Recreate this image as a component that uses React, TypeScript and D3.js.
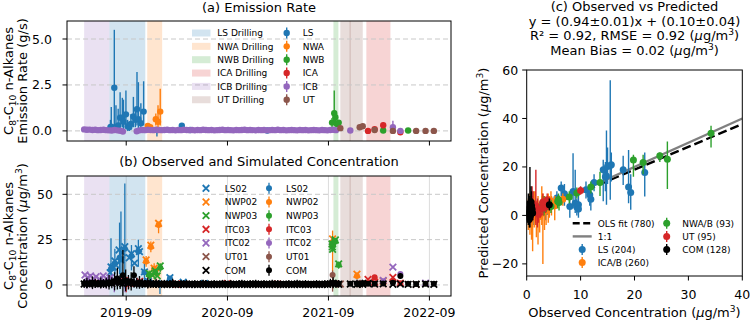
import React from "react";
import * as d3 from "d3";

// ---------------- shared time axis ----------------
const dateDomain = ["2019-01-30", "2022-11-18"];
const dateTicks = ["2019-09-01", "2020-09-01", "2021-09-01", "2022-09-01"];
const dateTickLabels = ["2019-09", "2020-09", "2021-09", "2022-09"];

// drilling periods: [site, start, end]
const drillingSpans = [
  ["LS", "2019-07-02", "2019-11-09"],
  ["NWA", "2019-11-16", "2020-01-09"],
  ["NWB", "2021-09-19", "2021-10-07"],
  ["ICA", "2022-01-16", "2022-04-13"],
  ["ICB", "2019-04-02", "2019-07-02"],
  ["UT", "2021-10-14", "2021-11-21"],
  ["UT", "2021-11-16", "2022-01-03"],
];
const drillingSites = ["LS", "NWA", "NWB", "ICA", "ICB", "UT"];

// ---------------- (a) emission rate, g/s: [date, value, low, high] ----------------
const emisLS = [
  ["2019-07-06", 0.2, 0.0, 0.6], ["2019-07-09", 0.23, 0.0, 1.3], ["2019-07-20", 2.35, 0.1, 5.5],
  ["2019-07-26", 0.2, 0.0, 1.4], ["2019-08-03", 0.3, 0.0, 1.2], ["2019-08-10", 0.72, 0.2, 2.1],
  ["2019-08-18", 0.72, 0.2, 1.8], ["2019-08-22", 0.5, 0.1, 1.7], ["2019-08-31", 0.9, 0.2, 2.2],
  ["2019-09-06", 0.25, 0.0, 0.6], ["2019-09-12", 0.2, 0.0, 0.5], ["2019-09-18", 0.38, 0.1, 0.9],
  ["2019-09-27", 0.78, 0.2, 1.85], ["2019-10-04", 0.6, 0.2, 1.2], ["2019-10-10", 1.18, 0.3, 3.2],
  ["2019-10-15", 0.63, 0.1, 2.65], ["2019-10-24", 0.42, 0.1, 1.5], ["2019-11-03", 1.05, 0.3, 2.7],
  ["2019-12-21", 0.05, -0.3, 0.15], ["2020-03-20", 0.28, 0.15, 0.4], ["2020-04-19", 0.05, 0.0, 0.1],
  ["2021-01-23", 0.02, -0.12, 0.12],
];
const emisNWA = [
  ["2019-11-18", 0.27, 0.1, 0.4], ["2019-11-27", 0.2, 0.0, 0.35], ["2019-12-17", 0.63, 0.3, 0.95],
  ["2019-12-25", 0.5, 0.2, 1.4], ["2020-01-02", 1.05, 0.3, 2.3],
];
const emisNWB = [
  ["2021-09-14", 0.45, 0.2, 0.7], ["2021-09-22", 0.96, 0.3, 2.2], ["2021-09-26", 0.74, 0.4, 1.1],
  ["2021-10-02", 0.38, 0.2, 0.55], ["2021-10-08", 0.45, 0.25, 0.6], ["2022-03-18", 0.02, -0.05, 0.1],
  ["2022-06-16", 0.02, -0.05, 0.08],
];
const emisICA = [
  ["2022-01-22", 0.0, -0.15, 0.12], ["2022-02-15", 0.09, -0.05, 0.2], ["2022-03-18", 0.31, 0.15, 0.45],
  ["2022-05-19", -0.07, -0.15, 0.02],
];
const emisICB = [
  ["2021-11-19", 0.02, -0.05, 0.08], ["2022-04-22", 0.2, 0.0, 0.55], ["2022-05-19", 0.0, -0.1, 0.1],
];
const emisUT = [
  ["2021-10-14", 0.15, 0.05, 0.25], ["2021-12-23", 0.2, 0.1, 0.3], ["2022-01-03", 0.25, 0.15, 0.35],
  ["2022-02-15", 0.05, -0.05, 0.15], ["2022-04-22", 0.0, -0.1, 0.1], ["2022-07-15", 0.0, -0.05, 0.05],
  ["2022-08-18", 0.0, -0.05, 0.05], ["2022-09-17", 0.0, -0.05, 0.05],
];

// continuous monitoring dates (Apr 2019 - Oct 2021)
const bandDates = [
  "2019-04-02", "2019-04-12", "2019-04-22", "2019-05-02", "2019-05-12", "2019-05-22", "2019-06-01",
  "2019-06-11", "2019-06-21", "2019-07-01", "2019-07-11", "2019-07-21", "2019-07-31", "2019-08-10",
  "2019-08-20", "2019-08-30", "2019-09-09", "2019-09-19", "2019-09-29", "2019-10-09", "2019-10-19",
  "2019-10-29", "2019-11-08", "2019-11-18", "2019-11-28", "2019-12-08", "2019-12-18", "2019-12-28",
  "2020-01-07", "2020-01-17", "2020-01-27", "2020-02-06", "2020-02-16", "2020-02-26", "2020-03-07",
  "2020-03-17", "2020-03-27", "2020-04-06", "2020-04-16", "2020-04-26", "2020-05-06", "2020-05-16",
  "2020-05-26", "2020-06-05", "2020-06-15", "2020-06-25", "2020-07-05", "2020-07-15", "2020-07-25",
  "2020-08-04", "2020-08-14", "2020-08-24", "2020-09-03", "2020-09-13", "2020-09-23", "2020-10-03",
  "2020-10-13", "2020-10-23", "2020-11-02", "2020-11-12", "2020-11-22", "2020-12-02", "2020-12-12",
  "2020-12-22", "2021-01-01", "2021-01-11", "2021-01-21", "2021-01-31", "2021-02-10", "2021-02-20",
  "2021-03-02", "2021-03-12", "2021-03-22", "2021-04-01", "2021-04-11", "2021-04-21", "2021-05-01",
  "2021-05-11", "2021-05-21", "2021-05-31", "2021-06-10", "2021-06-20", "2021-06-30", "2021-07-10",
  "2021-07-20", "2021-07-30", "2021-08-09", "2021-08-19", "2021-08-29", "2021-09-08", "2021-09-18",
  "2021-09-28", "2021-10-08",
];
// ICB emission rate on the monitoring dates (null = no estimate)
const icbBand = [
  0.08, 0.06, 0.07, 0.05, 0.06, 0.04, 0.05, 0.06, 0.04, 0.03, 0.02, 0.05, 0.03, 0.01, -0.03,
  null, null, null, null, -0.02, 0.03, 0.05, 0.04, 0.06, 0.05, 0.04, 0.06, 0.05,
  0.04, 0.05, 0.06, 0.04, 0.05, 0.03, 0.05, 0.04, 0.06, 0.05, 0.04, 0.05, 0.03, 0.05, 0.04, 0.06,
  0.05, 0.04, 0.05, 0.03, 0.04, 0.05, 0.06, 0.04, 0.05, 0.04, 0.03, 0.05, 0.04, 0.05, 0.06, 0.04,
  0.05, 0.04, 0.03, 0.05,
  0.04, 0.05, 0.03, 0.04, 0.05, 0.04, 0.06, 0.04, 0.05, 0.03, 0.04, 0.05, 0.04, 0.03, 0.05, 0.04,
  0.05, 0.03, 0.04, 0.05, 0.04, 0.03, 0.05, 0.04, 0.03, 0.05, 0.06, 0.04, null,
];

// ---------------- (b) concentration, ug/m3 ----------------
// COM observed / simulated on the monitoring dates
const comObs = [
  0.5, 0.8, 0.3, 1.0, 0.6, 0.4, 0.9, 0.5, 0.7, 1.2, 0.8, 1.5, 2.0, 1.0, 0.6, 1.8, 0.9, 1.2, 0.7, 0.5,
  0.9, 0.6, 0.4, 0.8, 0.5, 0.3, 0.6, 0.4,
  0.3, 0.5, 0.2, 0.4, 0.6, 0.3, 0.2, 0.4, 0.3, 0.5, 0.2, 0.3, 0.4, 0.2, 0.3, 0.5, 0.4, 0.2, 0.3, 0.4,
  0.2, 0.3, 0.5, 0.3, 0.2, 0.4, 0.3, 0.2, 0.4, 0.5, 0.3, 0.2, 0.4, 0.3, 0.5, 0.2,
  0.3, 0.4, 0.2, 0.3, 0.5, 0.2, 0.4, 0.3, 0.2, 0.3, 0.4, 0.2, 0.3, 0.5, 0.2, 0.3, 0.4, 0.2, 0.3, 0.2,
  0.4, 0.3, 0.2, 0.4, 0.3, 0.6, 0.8, 0.5, 0.4,
];
const comSim = [
  0.8, 1.0, 0.6, 1.2, 0.9, 0.7, 1.1, 0.8, 1.0, 1.5, 1.2, 2.0, 3.5, 1.8, 5.3, 2.5, 1.5, 2.0, 5.3, 1.0,
  1.4, 0.9, 0.7, 1.1, 0.8, 0.6, 0.9, 0.7,
  0.6, 0.8, 0.5, 0.7, 0.9, 0.6, 0.5, 0.7, 0.6, 0.8, 0.5, 0.6, 0.7, 0.5, 0.6, 0.8, 0.7, 0.5, 0.6, 0.7,
  0.5, 0.6, 0.8, 0.6, 0.5, 0.7, 0.6, 0.5, 0.7, 0.8, 0.6, 0.5, 0.7, 0.6, 0.8, 0.5,
  0.6, 0.7, 0.5, 0.6, 0.8, 0.5, 0.7, 0.6, 0.5, 0.6, 0.7, 0.5, 0.6, 0.8, 0.5, 0.6, 0.7, 0.5, 0.6, 0.5,
  0.7, 0.6, 0.5, 0.7, 0.6, 0.9, 1.2, 0.8, 0.7,
];
const comSimErr = [
  2.5, 3, 2, 3.5, 2.5, 2, 3, 2.5, 3, 4, 3, 5, 6, 4, 14, 6, 4, 5, 5, 3, 3.5, 2.5, 2, 3, 2.5, 2, 2.5, 2,
  1.5, 2, 1.5, 2, 2.5, 1.5, 1.5, 2, 1.5, 2, 1.5, 1.5, 2, 1.5, 1.5, 2, 2, 1.5, 1.5, 2, 1.5, 1.5, 2,
  1.5, 1.5, 2, 1.5, 1.5, 2, 2, 1.5, 1.5, 2, 1.5, 2, 1.5,
  1.5, 2, 1.5, 1.5, 2, 1.5, 2, 1.5, 1.5, 1.5, 2, 1.5, 1.5, 2, 1.5, 1.5, 2, 1.5, 1.5, 1.5, 2, 1.5,
  1.5, 2, 1.5, 2.5, 3, 2, 2,
];
// COM after the continuous period
const lateDates = [
  "2021-11-19", "2021-12-13", "2021-12-23", "2022-01-03", "2022-01-22", "2022-02-15", "2022-03-18",
  "2022-04-22", "2022-05-19", "2022-06-16", "2022-07-15", "2022-08-18", "2022-09-17",
];
const comLateObs = [0.5, 0.3, 0.6, 0.4, 0.8, 0.5, 0.6, 0.4, 0.5, 0.3, 0.4, 0.5, 0.3];
const comLateSim = [0.6, 0.8, 0.5, 0.9, 0.7, 0.6, 0.8, 1.2, 5.0, 0.6, 0.5, 0.7, 0.6];
const comLateErr = [1, 1, 1, 1.5, 1, 1, 1, 1.5, 1.5, 1, 1, 1, 1];

// observed: [date, value]; simulated: [date, value, low, high]
const ls02Obs = [
  ["2019-07-05", 6.8], ["2019-07-08", 9.9], ["2019-07-16", 9.8], ["2019-07-22", 13.2],
  ["2019-07-26", 10.9], ["2019-08-06", 19.3], ["2019-08-13", 13.8], ["2019-08-18", 17.8],
  ["2019-08-27", 21.1], ["2019-09-12", 15.0], ["2019-09-20", 17.2], ["2019-10-01", 12.0],
  ["2019-10-15", 20.0], ["2019-10-19", 18.4], ["2019-11-06", 7.2], ["2019-11-20", 2.0],
  ["2020-02-06", 4.0], ["2020-03-25", 1.5], ["2020-06-10", 0.8],
];
const ls02Sim = [
  ["2019-07-08", 9.0, 3, 25.8], ["2019-07-22", 12.0, 6, 20], ["2019-08-08", 15.0, 6, 34.4],
  ["2019-08-13", 14.0, 4, 40.5], ["2019-08-27", 20.0, -2, 56], ["2019-09-20", 16.0, 8, 22],
  ["2019-10-15", 18.5, 10, 25], ["2019-11-06", 7.0, 2, 12], ["2019-12-01", 1.0, -1, 3],
  ["2020-01-01", 0.5, -5, 3], ["2020-02-06", 3.5, 2, 5],
];
const nwp02Obs = [
  ["2019-11-12", 13.8], ["2019-11-29", 21.9], ["2019-12-11", 9.2], ["2019-12-19", 7.0],
  ["2019-12-27", 34.0], ["2021-09-16", 25.4], ["2021-12-13", 5.9], ["2022-03-18", 2.2],
];
const nwp02Sim = [
  ["2019-11-12", 13.0, 10, 16], ["2019-11-29", 21.0, 18, 24], ["2019-12-11", 9.0, 6, 12],
  ["2019-12-27", 33.0, 28.5, 35], ["2021-09-16", 22.0, 7.3, 30], ["2021-12-13", 5.0, 3, 7],
  ["2022-03-18", 1.5, 0, 3],
];
const nwp03Obs = [
  ["2019-11-23", 6.4], ["2019-12-05", 5.3], ["2019-12-15", 7.7], ["2019-12-22", 5.0],
  ["2020-01-02", 10.5], ["2021-09-14", 22.6], ["2021-09-15", 21.0], ["2021-09-16", 19.7],
  ["2021-09-26", 24.8], ["2021-10-08", 11.6], ["2021-12-23", 1.0],
];
const nwp03Sim = [
  ["2019-11-23", 5.5, 3, 8], ["2019-12-15", 7.0, 5, 9], ["2020-01-02", 9.5, 7, 12],
  ["2021-09-15", 23.0, 18, 27], ["2021-09-26", 24.0, 21, 26], ["2021-10-08", 11.0, 9, 13],
];
const itc03Obs = [
  ["2019-05-20", 1.5], ["2019-08-25", 2.5], ["2019-09-15", 1.0], ["2019-10-20", 2.0],
  ["2020-03-01", 0.5], ["2020-09-01", 0.8], ["2021-03-01", 0.6], ["2022-01-22", 3.1],
  ["2022-02-15", 1.5], ["2022-04-22", 4.2], ["2022-05-19", 1.0],
];
const itc03Sim = [
  ["2019-09-01", 0.5, -4, 3], ["2019-09-10", 1.0, -2, 4], ["2022-02-15", 4.2, 3, 5.5],
  ["2022-04-22", 2.0, 1, 3], ["2022-05-19", 1.0, 0, 2],
];
const itc02Obs = [
  ["2019-04-05", 5.5], ["2019-04-15", 4.0], ["2019-04-25", 5.0], ["2019-05-05", 3.5],
  ["2019-05-15", 4.5], ["2019-05-28", 3.0], ["2019-06-10", 5.0], ["2019-06-22", 3.5],
  ["2019-07-05", 4.0], ["2019-07-18", 3.0], ["2019-08-01", 2.5], ["2019-08-20", 2.0],
  ["2019-09-20", 1.5], ["2019-10-20", 1.0], ["2021-12-23", 1.0], ["2022-03-18", 2.5],
  ["2022-04-22", 9.8], ["2022-08-18", 1.0],
];
const itc02Sim = [
  ["2019-04-10", 2.0, -1, 4], ["2019-06-01", 2.5, 0, 5], ["2019-07-20", 1.5, -4, 4],
  ["2019-08-28", 1.0, -4, 3], ["2022-03-18", 2.0, 1, 3], ["2022-05-19", 6.0, 5, 7],
];
const ut01Obs = [["2021-10-14", 0.5], ["2021-12-23", 0.6], ["2022-01-03", 0.8], ["2022-07-15", 0.3]];
const ut01Sim = [["2021-09-16", 5.5, -3.7, 8], ["2021-12-23", 1.0, 0, 2]];
const concSites = ["LS02", "NWP02", "NWP03", "ITC03", "ITC02", "UT01", "COM"];

// ---------------- (c) observed vs predicted: [observed, predicted, low, high] ----------------
const cmpLS = [
  [0.3, 1.5, -3, 6], [0.8, 3.0, -2, 8], [1.2, 0.5, -4, 5], [2.0, 2.5, -1, 6], [2.8, 4.5, 1, 8],
  [3.5, 1.5, -2, 5], [5.6, 7.2, 4, 10], [6.4, 11.3, 8, 14], [7.0, 8.9, 4, 13], [8.0, 3.7, -1, 8],
  [8.6, 9.9, 3, 25.7], [9.0, 5.0, 1, 18.8], [9.3, 3.5, 0, 7], [9.6, 4.4, 1, 8], [9.6, 2.6, -1, 6],
  [11.0, 10.6, 7, 14], [11.7, 8.5, 4, 12], [11.9, 6.7, 2, 10], [12.5, 13.6, 10, 17],
  [14.2, 18.8, 5.8, 23], [14.6, 16.0, 10, 22], [14.8, 16.3, 4.4, 35], [15.0, 20.2, 13, 28],
  [15.5, 20.6, 6.5, 55.8], [15.7, 20.9, 14, 26], [17.9, 18.8, 12.6, 24.6], [18.9, 11.7, 5, 27],
  [19.3, 9.5, 2.3, 17], [21.9, 17.7, 7.8, 26],
];
const cmpICAB = [
  [0.3, 0.5, -6, 7], [0.6, 2.0, -8, 9], [0.9, -1.0, -10, 5], [1.1, 1.0, -14.8, 8], [1.4, 3.0, -5, 10],
  [1.8, 0.0, -9, 6], [2.1, 1.5, -12, 8], [2.4, -0.5, -7, 5], [2.8, 2.5, -4, 12], [3.0, 1.0, -20, 9],
  [3.3, 3.0, -6, 8], [3.6, 2.0, -4, 7], [4.0, 3.5, -3, 9], [4.2, 3.5, -1, 8], [4.6, 5.0, 0, 8],
  [5.2, 4.0, -2, 8], [5.75, 5.8, 3, 8], [6.7, 6.7, 4, 9], [4.5, 6.0, 2, 10], [1.6, 4.5, -3, 10],
];
const cmpNWAB = [
  [0.5, 0.8, -1, 3], [1.5, 2.0, 0, 4], [2.6, 3.5, 1, 6], [3.2, 2.5, 0, 8], [4.5, 3.7, 1, 6.5],
  [5.9, 6.5, 4, 9], [5.75, 5.8, 3, 8], [6.0, 5.3, 2, 8], [7.9, 7.6, 5, 10], [9.3, 9.2, 7, 11.5],
  [11.9, 11.7, 9, 14], [13.6, 13.6, 8, 18], [19.8, 22.9, 16, 25], [21.6, 21.8, 17, 25],
  [24.7, 24.6, 22, 26], [26.1, 23.2, 10.9, 30.5], [34.2, 33.9, 28, 37],
];
const cmpUT = [
  [0.8, 2.0, -3, 8], [1.2, 3.5, -2, 10], [1.7, 4.0, -4, 18.8], [2.0, 1.5, -5, 7], [2.5, 2.6, -1, 6],
  [3.0, 3.0, 0, 6], [3.5, 3.5, 1, 6], [3.0, 5.5, 2, 9], [3.8, 6.5, 3, 9], [2.2, 0.5, -3, 4],
  [10.0, 10.3, 8.5, 12], [1.0, 5.0, -1, 12],
];
const cmpCOM = [
  [0.1, 0.5, -3, 4], [0.2, 2.0, -2, 6], [0.3, -0.5, -4, 3], [0.4, 1.0, -3, 5], [0.5, 3.0, -1, 8],
  [0.6, 2.0, -5, 20], [0.7, 0.0, -3, 4], [0.8, 1.5, -2, 6], [0.9, 4.0, 0, 10], [1.0, 2.5, -1, 7],
  [1.1, 1.0, -2, 5], [0.3, 4.5, 1, 9], [0.5, -1.5, -5, 2], [0.8, 5.5, 2, 12], [4.2, 4.4, 2, 7],
];
const cmpGroups = ["LS (204)", "ICA/B (260)", "NWA/B (93)", "UT (95)", "COM (128)"];
const olsSlope = 0.94;
const olsIntercept = 0.1;
const xTicksC = [0, 10, 20, 30, 40];
const yTicksC = [-20, 0, 20, 40, 60];
const yTicksA = [0, 2.5, 5];
const yTicksB = [0, 25, 50];

// ---------------- styling ----------------
const FONT = "'DejaVu Sans', Verdana, sans-serif";
const COL = {
  blue: "#1f77b4", orange: "#ff7f0e", green: "#2ca02c", red: "#d62728",
  purple: "#9467bd", brown: "#8c564b", black: "#000000",
};
const siteColor: Record<string, string> = {
  LS: COL.blue, NWA: COL.orange, NWB: COL.green, ICA: COL.red, ICB: COL.purple, UT: COL.brown,
};

const parse = d3.utcParse("%Y-%m-%d");

function ErrDot({ cx, cy, y0, y1, color, r, sw }: any) {
  return (
    <g>
      <line x1={cx} x2={cx} y1={y0} y2={y1} stroke={color} strokeWidth={sw} />
      <circle cx={cx} cy={cy} r={r} fill={color} />
    </g>
  );
}

function XMark({ cx, cy, s, color, sw }: any) {
  return (
    <path
      d={`M${cx - s},${cy - s}L${cx + s},${cy + s}M${cx - s},${cy + s}L${cx + s},${cy - s}`}
      stroke={color}
      strokeWidth={sw}
      fill="none"
    />
  );
}

function Unit() {
  return (
    <>
      (<tspan fontStyle="italic">μ</tspan>g/m<tspan dy={-5} fontSize="0.7em">3</tspan>
      <tspan dy={5}>)</tspan>
    </>
  );
}

function Alkanes() {
  return (
    <>
      C<tspan dy={3} fontSize="0.7em">8</tspan>
      <tspan dy={-3}>-C</tspan>
      <tspan dy={3} fontSize="0.7em">10</tspan>
      <tspan dy={-3}> n-Alkanes</tspan>
    </>
  );
}

export default function App() {
  const x = d3.scaleUtc().domain(dateDomain.map((d) => parse(d) as Date)).range([67, 451]);
  const yA = d3.scaleLinear().domain([-0.55, 5.98]).range([141, 21]);
  const yB = d3.scaleLinear().domain([-6.1, 60.1]).range([296, 176]);
  const xC = d3.scaleLinear().domain([0, 40]).range([526.7, 742.3]);
  const yC = d3.scaleLinear().domain([-25, 60]).range([276, 70]);
  const xd = (s: string) => x(parse(s) as Date);

  const A = { l: 67, r: 451, t: 21, b: 141 };
  const B = { l: 67, r: 451, t: 176, b: 296 };
  const Cp = { l: 526.7, r: 742.3, t: 70, b: 276 };

  const spans = (top: number, bottom: number) =>
    drillingSpans.map(([site, s, e], i) => (
      <rect
        key={"sp" + i}
        x={xd(s)}
        y={top}
        width={xd(e) - xd(s)}
        height={bottom - top}
        fill={siteColor[site]}
        fillOpacity={0.2}
      />
    ));

  const emisSeries: [string, any[]][] = [
    ["LS", emisLS], ["NWA", emisNWA], ["NWB", emisNWB], ["ICA", emisICA], ["ICB", emisICB], ["UT", emisUT],
  ];

  const concSeries: [string, any[], any[]][] = [
    [COL.blue, ls02Obs, ls02Sim],
    [COL.orange, nwp02Obs, nwp02Sim],
    [COL.green, nwp03Obs, nwp03Sim],
    [COL.red, itc03Obs, itc03Sim],
    [COL.purple, itc02Obs, itc02Sim],
    [COL.brown, ut01Obs, ut01Sim],
  ];

  const cmpSeries: [string, any[]][] = [
    [COL.blue, cmpLS], [COL.orange, cmpICAB], [COL.green, cmpNWAB], [COL.red, cmpUT], [COL.black, cmpCOM],
  ];

  const gridDash = "5,3";
  const gridCol = "#c8c8c8";
  const cx = (Cp.l + Cp.r) / 2;

  return (
    <svg
      width={750}
      height={323}
      viewBox="0 0 750 323"
      style={{ position: "absolute", left: 0, top: 0, background: "#fff" }}
      fontFamily={FONT}
    >
      <defs>
        <clipPath id="clipA"><rect x={A.l} y={A.t} width={A.r - A.l} height={A.b - A.t} /></clipPath>
        <clipPath id="clipB"><rect x={B.l} y={B.t} width={B.r - B.l} height={B.b - B.t} /></clipPath>
        <clipPath id="clipC"><rect x={Cp.l} y={Cp.t} width={Cp.r - Cp.l} height={Cp.b - Cp.t} /></clipPath>
      </defs>
      <rect x={0} y={0} width={750} height={323} fill="#fff" />

      {/* ================= (a) Emission Rate ================= */}
      <text x={(A.l + A.r) / 2} y={11.5} textAnchor="middle" fontSize={13}>(a) Emission Rate</text>
      <g clipPath="url(#clipA)">
        {spans(A.t, A.b)}
        {yTicksA.map((t) => (
          <line key={"ga" + t} x1={A.l} x2={A.r} y1={yA(t)} y2={yA(t)} stroke={gridCol} strokeDasharray={gridDash} />
        ))}
        {emisSeries.map(([site, rows]) => (
          <g key={"ea" + site}>
            {site === "ICB" &&
              bandDates.map((d, i) =>
                icbBand[i] == null ? null : (
                  <circle key={"icb" + i} cx={xd(d)} cy={yA(icbBand[i] as number)} r={3.2} fill={COL.purple} />
                )
              )}
            {rows.map((r: any, i: number) => (
              <ErrDot key={i} cx={xd(r[0])} cy={yA(r[1])} y0={yA(r[2])} y1={yA(r[3])} color={siteColor[site]} r={3.2} sw={1.4} />
            ))}
          </g>
        ))}
      </g>
      <rect x={A.l} y={A.t} width={A.r - A.l} height={A.b - A.t} fill="none" stroke="#000" strokeWidth={1} />
      {yTicksA.map((t) => (
        <g key={"ya" + t}>
          <line x1={A.l - 4.5} x2={A.l} y1={yA(t)} y2={yA(t)} stroke="#000" />
          <text x={52} y={yA(t) + 4.5} textAnchor="end" fontSize={12.5}>{t.toFixed(1)}</text>
        </g>
      ))}
      {dateTicks.map((d) => (
        <line key={"xa" + d} x1={xd(d)} x2={xd(d)} y1={A.b} y2={A.b + 4.5} stroke="#000" />
      ))}
      <text transform={`translate(13,${(A.t + A.b) / 2}) rotate(-90)`} textAnchor="middle" fontSize={13}>
        <Alkanes />
      </text>
      <text transform={`translate(27,${(A.t + A.b) / 2}) rotate(-90)`} textAnchor="middle" fontSize={13}>
        Emission Rate (g/s)
      </text>
      {/* legend (a) */}
      {drillingSites.map((site, i) => {
        const cy = 33 + i * 13.35;
        return (
          <g key={"la" + site} fontSize={9}>
            <rect x={192} y={cy - 3.5} width={18.5} height={7} fill={siteColor[site]} fillOpacity={0.2} />
            <text x={217.3} y={cy + 3.3}>{site} Drilling</text>
            <ErrDot cx={286.7} cy={cy} y0={cy - 5.5} y1={cy + 5.5} color={siteColor[site]} r={3.2} sw={1.4} />
            <text x={302.7} y={cy + 3.3}>{site}</text>
          </g>
        );
      })}

      {/* ================= (b) Observed and Simulated Concentration ================= */}
      <text x={(B.l + B.r) / 2} y={166} textAnchor="middle" fontSize={13}>
        (b) Observed and Simulated Concentration
      </text>
      <g clipPath="url(#clipB)">
        {dateTicks.map((d) => (
          <line key={"gvb" + d} x1={xd(d)} x2={xd(d)} y1={B.t} y2={B.b} stroke="#dcdcdc" strokeWidth={1} />
        ))}
        {spans(B.t, B.b)}
        {yTicksB.map((t) => (
          <line key={"gb" + t} x1={B.l} x2={B.r} y1={yB(t)} y2={yB(t)} stroke={gridCol} strokeDasharray={gridDash} />
        ))}
        {concSeries.map(([col, obs, sim], k) => (
          <g key={"sb" + k}>
            {obs.map((r: any, i: number) => (
              <XMark key={"o" + i} cx={xd(r[0])} cy={yB(r[1])} s={3.3} color={col} sw={1.8} />
            ))}
            {sim.map((r: any, i: number) => (
              <ErrDot key={"s" + i} cx={xd(r[0])} cy={yB(r[1])} y0={yB(r[2])} y1={yB(r[3])} color={col} r={3} sw={1.3} />
            ))}
          </g>
        ))}
        {/* COM */}
        {bandDates.map((d, i) => (
          <XMark key={"co" + i} cx={xd(d)} cy={yB(comObs[i])} s={3.3} color={COL.black} sw={1.8} />
        ))}
        {lateDates.map((d, i) => (
          <XMark key={"clo" + i} cx={xd(d)} cy={yB(comLateObs[i])} s={3.3} color={COL.black} sw={1.8} />
        ))}
        {bandDates.map((d, i) => (
          <ErrDot
            key={"cs" + i}
            cx={xd(d)}
            cy={yB(comSim[i])}
            y0={yB(comSim[i] - comSimErr[i])}
            y1={yB(comSim[i] + comSimErr[i])}
            color={COL.black}
            r={3}
            sw={1.3}
          />
        ))}
        {lateDates.map((d, i) => (
          <ErrDot
            key={"cls" + i}
            cx={xd(d)}
            cy={yB(comLateSim[i])}
            y0={yB(comLateSim[i] - comLateErr[i])}
            y1={yB(comLateSim[i] + comLateErr[i])}
            color={COL.black}
            r={3}
            sw={1.3}
          />
        ))}
      </g>
      <rect x={B.l} y={B.t} width={B.r - B.l} height={B.b - B.t} fill="none" stroke="#000" strokeWidth={1} />
      {yTicksB.map((t) => (
        <g key={"yb" + t}>
          <line x1={B.l - 4.5} x2={B.l} y1={yB(t)} y2={yB(t)} stroke="#000" />
          <text x={53} y={yB(t) + 4.5} textAnchor="end" fontSize={12.5}>{t}</text>
        </g>
      ))}
      {dateTicks.map((d, i) => (
        <g key={"xb" + d}>
          <line x1={xd(d)} x2={xd(d)} y1={B.b} y2={B.b + 4.5} stroke="#000" />
          <text x={xd(d)} y={317} textAnchor="middle" fontSize={12.5}>{dateTickLabels[i]}</text>
        </g>
      ))}
      <text transform={`translate(13,${(B.t + B.b) / 2}) rotate(-90)`} textAnchor="middle" fontSize={13}>
        <Alkanes />
      </text>
      <text transform={`translate(27,${(B.t + B.b) / 2}) rotate(-90)`} textAnchor="middle" fontSize={13}>
        Concentration <Unit />
      </text>
      {/* legend (b) */}
      {concSites.map((name, i) => {
        const cy = 188.3 + i * 13.67;
        const col = i < 6 ? concSeries[i][0] : COL.black;
        return (
          <g key={"lb" + name} fontSize={9}>
            <XMark cx={206} cy={cy} s={3.3} color={col} sw={1.8} />
            <text x={224.7} y={cy + 3.3}>{name}</text>
            <ErrDot cx={269} cy={cy} y0={cy - 5.5} y1={cy + 5.5} color={col} r={3} sw={1.3} />
            <text x={286} y={cy + 3.3}>{name}</text>
          </g>
        );
      })}

      {/* ================= (c) Observed vs Predicted ================= */}
      <g fontSize={13} textAnchor="middle">
        <text x={cx} y={11}>(c) Observed vs Predicted</text>
        <text x={cx} y={25.5}>y = (0.94±0.01)x + (0.10±0.04)</text>
        <text x={cx} y={40}>
          R² = 0.92, RMSE = 0.92 <Unit />
        </text>
        <text x={cx} y={54.5}>
          Mean Bias = 0.02 <Unit />
        </text>
      </g>
      <g clipPath="url(#clipC)">
        <line
          x1={xC(0)}
          x2={xC(40)}
          y1={yC(olsIntercept)}
          y2={yC(olsSlope * 40 + olsIntercept)}
          stroke="#000"
          strokeWidth={2.4}
          strokeDasharray="9,4"
        />
        <line x1={xC(0)} x2={xC(40)} y1={yC(0)} y2={yC(40)} stroke="#808080" strokeWidth={2.4} />
        {cmpSeries.map(([col, rows], k) => (
          <g key={"c" + k}>
            {rows.map((r: any, i: number) => (
              <ErrDot key={i} cx={xC(r[0])} cy={yC(r[1])} y0={yC(r[2])} y1={yC(r[3])} color={col} r={3.5} sw={1.4} />
            ))}
          </g>
        ))}
      </g>
      <rect x={Cp.l} y={Cp.t} width={Cp.r - Cp.l} height={Cp.b - Cp.t} fill="none" stroke="#000" strokeWidth={1} />
      {yTicksC.map((t) => (
        <g key={"yc" + t}>
          <line x1={Cp.l - 4.5} x2={Cp.l} y1={yC(t)} y2={yC(t)} stroke="#000" />
          <text x={Cp.l - 8.5} y={yC(t) + 4.5} textAnchor="end" fontSize={12.5}>
            {t < 0 ? "−" + Math.abs(t) : t}
          </text>
        </g>
      ))}
      {xTicksC.map((t) => (
        <g key={"xc" + t}>
          <line x1={xC(t)} x2={xC(t)} y1={Cp.b} y2={Cp.b + 4.5} stroke="#000" />
          <text x={xC(t)} y={299} textAnchor="middle" fontSize={12.5}>{t}</text>
        </g>
      ))}
      <text x={cx} y={317} textAnchor="middle" fontSize={13}>
        Observed Concentration <Unit />
      </text>
      <text transform={`translate(488,${(Cp.t + Cp.b) / 2}) rotate(-90)`} textAnchor="middle" fontSize={13}>
        Predicted Concentration <Unit />
      </text>
      {/* legend (c) */}
      <g fontSize={9}>
        <line x1={572.7} x2={591.7} y1={223.3} y2={223.3} stroke="#000" strokeWidth={2.4} strokeDasharray="7,3.5" />
        <text x={597.7} y={226.6}>OLS fit (780)</text>
        <line x1={572.7} x2={591.7} y1={236.4} y2={236.4} stroke="#808080" strokeWidth={2.4} />
        <text x={597.7} y={239.7}>1:1</text>
        {cmpGroups.map((g, i) => {
          const col2 = i >= 2;
          const hx = col2 ? 666.7 : 582.2;
          const tx = col2 ? 682.3 : 597.7;
          const cy = col2 ? 223.3 + (i - 2) * 13.1 : 249.5 + i * 13.1;
          return (
            <g key={"lc" + g}>
              <ErrDot cx={hx} cy={cy} y0={cy - 5.5} y1={cy + 5.5} color={cmpSeries[i][0]} r={3.5} sw={1.4} />
              <text x={tx} y={cy + 3.3}>{g}</text>
            </g>
          );
        })}
      </g>
    </svg>
  );
}
